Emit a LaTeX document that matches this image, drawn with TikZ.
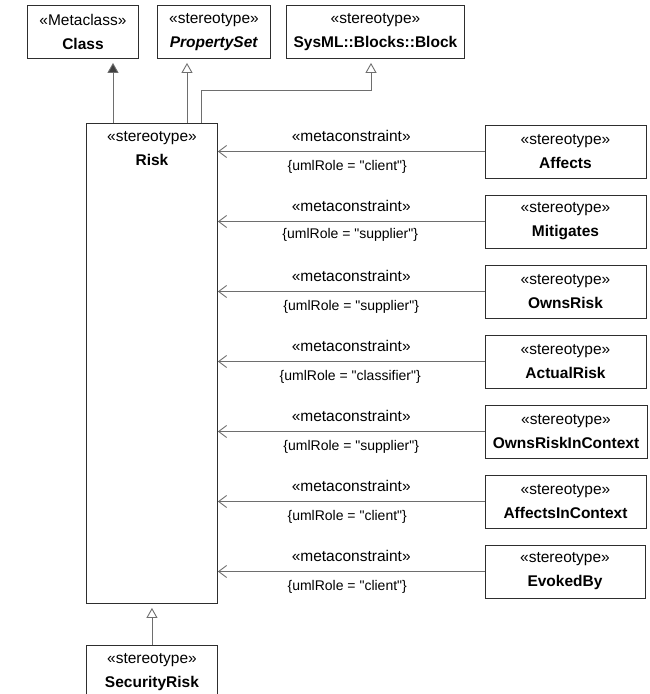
\documentclass[tikz,border=0pt]{standalone}
\usepackage{fontspec}
\setmainfont{Liberation Sans}
\usetikzlibrary{positioning,arrows.meta}

\definecolor{edgegray}{HTML}{6E6E6E}
\definecolor{boxline}{HTML}{2E2E2E}
\newcommand{\qd}{\textquotedbl}

\tikzset{
  stereo/.style={draw=boxline, line width=0.9pt, fill=white, align=center,
    inner sep=0pt, minimum height=53pt, font=\fontsize{15.5}{24}\selectfont},
  link/.style={draw=edgegray, line width=0.9pt},
  gen/.style={link, shorten >=4pt, -{Triangle[open, length=10pt, width=11pt, fill=white]}},
  realize/.style={link, shorten >=4pt, -{Triangle[length=10pt, width=11pt, fill=black!75]}},
  constr/.style={link, -{Straight Barb[length=8pt, width=12pt]}},
  tag/.style={font=\fontsize{15.5}{17}\selectfont, inner sep=0pt},
  role/.style={font=\fontsize{14}{16}\selectfont, inner sep=0pt}
}

\begin{document}
\begin{tikzpicture}[x=1pt, y=1pt, node distance=16.1pt]
  \useasboundingbox (0,0) rectangle (649,-694);

  % ── Row 0: metaclass and parent stereotypes ──────────────────
  \node[stereo, minimum width=111pt, anchor=north west] (class) at (27,-5)
    {«Metaclass»\\\textbf{Class}};
  \node[stereo, minimum width=113pt, anchor=north west] (propset) at (157,-5)
    {«stereotype»\\\textbf{\textit{PropertySet}}};
  \node[stereo, minimum width=178pt, anchor=north west] (block) at (286,-5)
    {«stereotype»\\\textbf{SysML::Blocks::Block}};

  % ── Risk (tall box, title at the top) ────────────────────────
  \node[stereo, minimum width=131pt, minimum height=480pt, anchor=north west]
    (risk) at (86,-123) {};
  \node[tag, font=\fontsize{15.5}{24}\selectfont, align=center, below=8pt of risk.north]
    (risklbl) {«stereotype»\\\textbf{Risk}};

  % ── Right column: related stereotypes ────────────────────────
  \node[stereo, minimum width=161pt] (affects) at (565.5,-151.5)
    {«stereotype»\\\textbf{Affects}};
  \node[stereo, minimum width=161pt, below=of affects]   (mitigates)
    {«stereotype»\\\textbf{Mitigates}};
  \node[stereo, minimum width=161pt, below=of mitigates] (ownsrisk)
    {«stereotype»\\\textbf{OwnsRisk}};
  \node[stereo, minimum width=161pt, below=of ownsrisk]  (actualrisk)
    {«stereotype»\\\textbf{ActualRisk}};
  \node[stereo, minimum width=162pt, below=of actualrisk, xshift=0.5pt] (ownsctx)
    {«stereotype»\\\textbf{OwnsRiskInContext}};
  \node[stereo, minimum width=161pt, below=of ownsctx, xshift=-0.5pt] (affectsctx)
    {«stereotype»\\\textbf{AffectsInContext}};
  \node[stereo, minimum width=160pt, below=of affectsctx, xshift=-0.5pt] (evoked)
    {«stereotype»\\\textbf{EvokedBy}};

  % ── Bottom: specialisation ───────────────────────────────────
  \node[stereo, minimum width=131pt, anchor=north west] (secrisk) at (86,-645)
    {«stereotype»\\\textbf{SecurityRisk}};

  % ── Generalisations ──────────────────────────────────────────
  \draw[realize] (risk.north -| 113,0) -- (class.south -| 113,0);
  \draw[gen] (risk.north -| 187,0) -- (propset.south -| 187,0);
  \draw[gen] (risk.north -| 201,0) |- (371,-90) -- (block.south -| 371,0);
  \draw[gen] (secrisk) -- (risk);

  % ── Metaconstraints ──────────────────────────────────────────
  \draw[constr] (affects) -- (affects -| risk.east)
    node[tag, midway, above=9pt] {«metaconstraint»}
    node[role, midway, below=8pt, xshift=-4pt] {\{umlRole = \qd client\qd\}};
  \draw[constr] (mitigates) -- (mitigates -| risk.east)
    node[tag, midway, above=9pt] {«metaconstraint»}
    node[role, midway, below=6pt, xshift=-1pt] {\{umlRole = \qd supplier\qd\}};
  \draw[constr] (ownsrisk) -- (ownsrisk -| risk.east)
    node[tag, midway, above=9pt] {«metaconstraint»}
    node[role, midway, below=8pt] {\{umlRole = \qd supplier\qd\}};
  \draw[constr] (actualrisk) -- (actualrisk -| risk.east)
    node[tag, midway, above=9pt] {«metaconstraint»}
    node[role, midway, below=8pt, xshift=-1pt] {\{umlRole = \qd classifier\qd\}};
  \draw[constr] (ownsctx) -- (ownsctx -| risk.east)
    node[tag, midway, above=9pt] {«metaconstraint»}
    node[role, midway, below=8pt] {\{umlRole = \qd supplier\qd\}};
  \draw[constr] (affectsctx) -- (affectsctx -| risk.east)
    node[tag, midway, above=9pt] {«metaconstraint»}
    node[role, midway, below=8pt, xshift=-4pt] {\{umlRole = \qd client\qd\}};
  \draw[constr] (evoked) -- (evoked -| risk.east)
    node[tag, midway, above=9pt] {«metaconstraint»}
    node[role, midway, below=8pt, xshift=-4pt] {\{umlRole = \qd client\qd\}};

\end{tikzpicture}
\end{document}
